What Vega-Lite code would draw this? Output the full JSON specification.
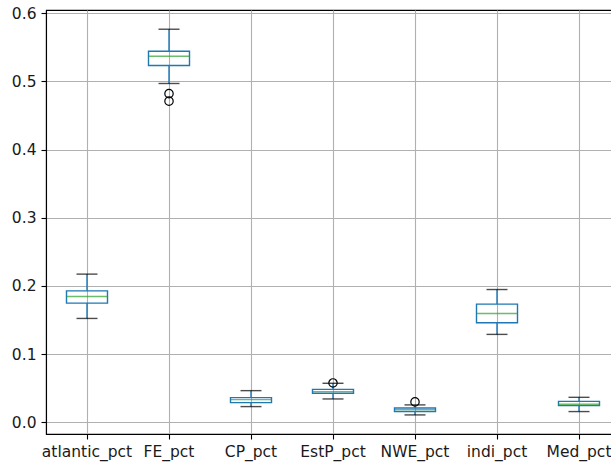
{
  "$schema": "https://vega.github.io/schema/vega-lite/v6.json",
  "width": 574,
  "height": 424,
  "autosize": "none",
  "padding": {"left": 46, "top": 10, "right": 0, "bottom": 32},
  "background": "white",
  "config": {
    "font": "DejaVu Sans",
    "view": {"stroke": "black", "strokeWidth": 1.1},
    "axis": {
      "labelFont": "DejaVu Sans",
      "labelFontSize": 15.5,
      "labelColor": "#1a1a1a",
      "domainColor": "black",
      "domainWidth": 1.1,
      "tickColor": "black",
      "tickWidth": 1.1,
      "tickSize": 5,
      "labelPadding": 5,
      "grid": true,
      "gridColor": "#b0b0b0",
      "gridWidth": 1.1,
      "title": null
    }
  },
  "datasets": {
    "boxes": [
      {"col": "atlantic_pct", "lo": 0.1523, "q1": 0.1748, "median": 0.1845, "q3": 0.1928, "hi": 0.2173},
      {"col": "FE_pct", "lo": 0.4969, "q1": 0.5233, "median": 0.5369, "q3": 0.5442, "hi": 0.5765},
      {"col": "CP_pct", "lo": 0.023, "q1": 0.0288, "median": 0.0332, "q3": 0.0362, "hi": 0.0464},
      {"col": "EstP_pct", "lo": 0.0342, "q1": 0.0425, "median": 0.045, "q3": 0.0483, "hi": 0.0572},
      {"col": "NWE_pct", "lo": 0.0108, "q1": 0.0157, "median": 0.0186, "q3": 0.021, "hi": 0.0255},
      {"col": "indi_pct", "lo": 0.1289, "q1": 0.146, "median": 0.1596, "q3": 0.1733, "hi": 0.1947},
      {"col": "Med_pct", "lo": 0.0157, "q1": 0.0244, "median": 0.0264, "q3": 0.0307, "hi": 0.0366}
    ],
    "outliers": [
      {"col": "FE_pct", "value": 0.482},
      {"col": "FE_pct", "value": 0.471},
      {"col": "EstP_pct", "value": 0.0577},
      {"col": "NWE_pct", "value": 0.0299}
    ]
  },
  "encoding": {
    "x": {
      "field": "col",
      "type": "nominal",
      "sort": ["atlantic_pct", "FE_pct", "CP_pct", "EstP_pct", "NWE_pct", "indi_pct", "Med_pct"],
      "scale": {"paddingInner": 0, "paddingOuter": 0},
      "axis": {"labelAngle": 0, "bandPosition": 0.5}
    }
  },
  "layer": [
    {
      "data": {"name": "boxes"},
      "mark": {"type": "rule", "color": "#1f77b4", "strokeWidth": 1.4},
      "encoding": {
        "y": {"field": "lo", "type": "quantitative", "scale": {"domain": [-0.0172, 0.6047], "nice": false, "zero": false},
              "axis": {"values": [0, 0.1, 0.2, 0.3, 0.4, 0.5, 0.6], "format": ".1f"}},
        "y2": {"field": "q1"}
      }
    },
    {
      "data": {"name": "boxes"},
      "mark": {"type": "rule", "color": "#1f77b4", "strokeWidth": 1.4},
      "encoding": {
        "y": {"field": "q3", "type": "quantitative"},
        "y2": {"field": "hi"}
      }
    },
    {
      "data": {"name": "boxes"},
      "mark": {"type": "tick", "color": "black", "size": 21, "thickness": 1.4, "orient": "horizontal"},
      "encoding": {"y": {"field": "lo", "type": "quantitative"}}
    },
    {
      "data": {"name": "boxes"},
      "mark": {"type": "tick", "color": "black", "size": 21, "thickness": 1.4, "orient": "horizontal"},
      "encoding": {"y": {"field": "hi", "type": "quantitative"}}
    },
    {
      "data": {"name": "boxes"},
      "mark": {"type": "bar", "width": {"band": 0.5}, "fill": "white", "fillOpacity": 0, "stroke": "#1f77b4", "strokeWidth": 1.4},
      "encoding": {
        "y": {"field": "q1", "type": "quantitative"},
        "y2": {"field": "q3"}
      }
    },
    {
      "data": {"name": "boxes"},
      "mark": {"type": "tick", "color": "#2ca02c", "size": 41, "thickness": 1.4, "orient": "horizontal"},
      "encoding": {"y": {"field": "median", "type": "quantitative"}}
    },
    {
      "data": {"name": "outliers"},
      "mark": {"type": "point", "shape": "circle", "filled": false, "stroke": "black", "strokeWidth": 1.2, "size": 70, "opacity": 1},
      "encoding": {"y": {"field": "value", "type": "quantitative"}}
    }
  ]
}
